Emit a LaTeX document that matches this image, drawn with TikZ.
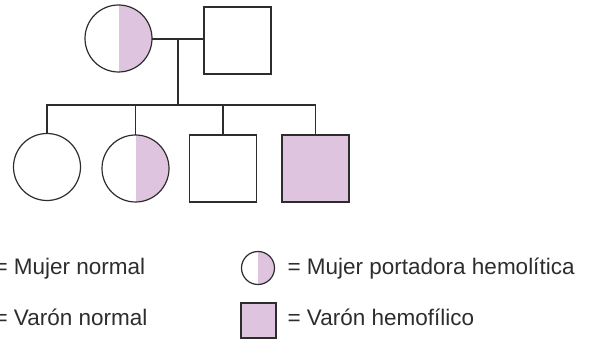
\documentclass[tikz,border=0pt]{standalone}
\usepackage{fontspec}
\setmainfont{Liberation Sans}
\definecolor{carrier}{RGB}{222,196,222}
\definecolor{ink}{RGB}{45,45,45}
\begin{document}
\begin{tikzpicture}[x=1pt,y=-1pt, line width=1.1pt,
  conn/.style={draw=ink, line width=1.1pt},
  female/.style={circle, draw=ink, line width=1.2pt, inner sep=0pt, outer sep=0pt, minimum size=#1},
  female/.default=67pt,
  male/.style={rectangle, draw=ink, line width=1.2pt, inner sep=0pt, outer sep=0pt, minimum size=#1},
  male/.default=67pt,
  halffill/.style={path picture={\fill[carrier] (path picture bounding box.north) rectangle (path picture bounding box.south east);}},
  affected/.style={fill=carrier},
  lbl/.style={anchor=base west, inner sep=0pt, text=ink, font=\fontsize{22.5}{26}\selectfont}
]
\useasboundingbox (0,0) rectangle (590,342);
% parents
\node[female, halffill] (m) at (118.5,38.5) {};
\node[male] (f) at (237.5,40.5) {};
\coordinate (mf) at (178,39);
\coordinate (sib) at (178,105);
\draw[conn] (m.east |- mf) -- (f.west |- mf);
\draw[conn] (mf) -- (sib);
% children
\node[female] (c1) at (47,167) {};
\node[female, halffill] (c2) at (135.5,168.5) {};
\node[male] (c3) at (223,168.5) {};
\node[male, affected] (c4) at (315.5,168.5) {};
\draw[conn] (c1.north) |- (sib) -| (c4.north);
\draw[conn] (c2.north) -- (c2.north |- sib);
\draw[conn] (c3.north) -- (c3.north |- sib);
% legend
\node[lbl] (l1) at (-6,275) {= Mujer normal};
\node[lbl] (l2) at (-6,326) {= Varón normal};
\node[female=33pt, halffill] (s3) at (258,268) {};
\node[male=35pt, affected] (s4) at (258.5,320.5) {};
\node[lbl] (l3) at (287,275) {= Mujer portadora hemolítica};
\node[lbl] (l4) at (287,326) {= Varón hemofílico};
\end{tikzpicture}
\end{document}
